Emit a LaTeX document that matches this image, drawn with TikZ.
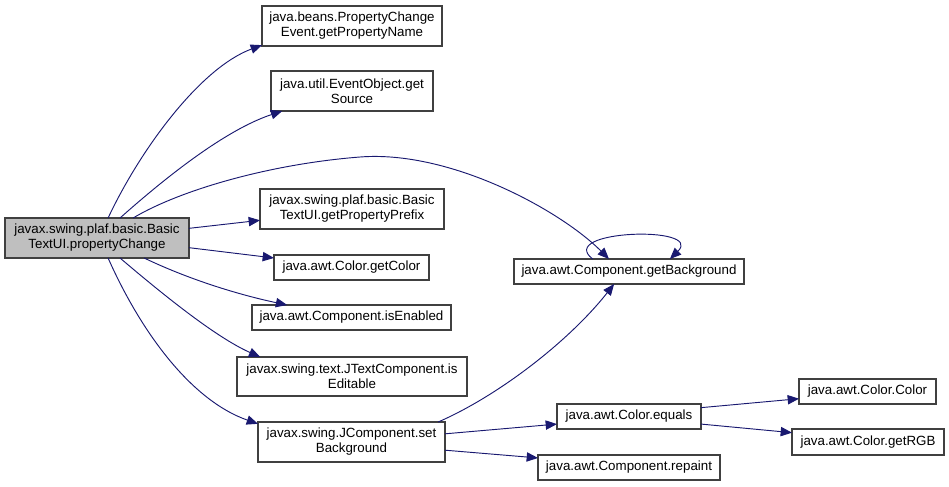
\documentclass[tikz,border=0pt]{standalone}
\usepackage{fontspec}
\setmainfont{Liberation Sans}
\usetikzlibrary{arrows.meta}
\definecolor{edgeblue}{HTML}{191970}
\definecolor{boxgray}{HTML}{404040}
\definecolor{rootfill}{HTML}{BFBFBF}

\begin{document}
\begin{tikzpicture}[
    x=0.75pt, y=-0.75pt,
    fn/.style={draw=boxgray, fill=white, line width=0.8pt, inner sep=0pt, outer sep=0pt,
               align=center, font=\fontsize{10}{11.25}\selectfont},
    call/.style={draw=edgeblue, line width=0.7pt,
                 -{Triangle[length=8.5pt, width=7pt]}},
]
    \useasboundingbox (0,0) rectangle (949,486);

    % caller
    \node[fn, fill=rootfill, minimum width=184*0.75pt, minimum height=40*0.75pt] (root) at (97,238)
        {javax.swing.plaf.basic.Basic\\TextUI.propertyChange};

    % callees
    \node[fn, minimum width=180*0.75pt, minimum height=40*0.75pt] (propname) at (352,26)
        {java.beans.PropertyChange\\Event.getPropertyName};
    \node[fn, minimum width=162*0.75pt, minimum height=40*0.75pt] (source) at (352,91)
        {java.util.EventObject.get\\Source};
    \node[fn, minimum width=184*0.75pt, minimum height=40*0.75pt] (prefix) at (352,209)
        {javax.swing.plaf.basic.Basic\\TextUI.getPropertyPrefix};
    \node[fn, minimum width=155*0.75pt, minimum height=25*0.75pt] (getcolor) at (351.5,267.5)
        {java.awt.Color.getColor};
    \node[fn, minimum width=199*0.75pt, minimum height=25*0.75pt] (enabled) at (351.5,317.5)
        {java.awt.Component.isEnabled};
    \node[fn, minimum width=230*0.75pt, minimum height=39*0.75pt] (editable) at (352,376.5)
        {javax.swing.text.JTextComponent.is\\Editable};
    \node[fn, minimum width=187*0.75pt, minimum height=40*0.75pt] (setbg) at (351.5,442)
        {javax.swing.JComponent.set\\Background};

    \node[fn, minimum width=230*0.75pt, minimum height=25*0.75pt] (getbg) at (629,271.5)
        {java.awt.Component.getBackground};
    \node[fn, minimum width=144*0.75pt, minimum height=25*0.75pt] (equals) at (629,416.5)
        {java.awt.Color.equals};
    \node[fn, minimum width=182*0.75pt, minimum height=25*0.75pt] (repaint) at (629,467.5)
        {java.awt.Component.repaint};
    \node[fn, minimum width=137*0.75pt, minimum height=25*0.75pt] (colorctor) at (867.5,391.5)
        {java.awt.Color.Color};
    \node[fn, minimum width=152*0.75pt, minimum height=26*0.75pt] (getrgb) at (868,442)
        {java.awt.Color.getRGB};

    % calls from the caller
    \draw[call] (root.61) .. controls (140,150) and (200,68) .. (propname.192);
    \draw[call] (root.41) .. controls (165,178) and (225,130) .. (source.196);
    \draw[call] (root.29) .. controls (180,190) and (270,164) .. (360,157)
        .. controls (450,150) and (560,210) .. (getbg.148);
    \draw[call] (root.6) -- (prefix.187);
    \draw[call] (root.-6) -- (getcolor.173);
    \draw[call] (root.-23) .. controls (190,280) and (240,295) .. (enabled.169);
    \draw[call] (root.-41) .. controls (160,292) and (215,337) .. (editable.168);
    \draw[call] (root.-61) .. controls (140,330) and (190,400) .. (setbg.169);

    % further calls
    \draw[call] (setbg.13) .. controls (500,395) and (570,340) .. (getbg.220);
    \draw[call] (setbg.5) -- (equals.186);
    \draw[call] (setbg.-5) -- (repaint.174);
    \draw[call] (equals.7) -- (colorctor.186);
    \draw[call] (equals.-6) -- (getrgb.173);
    \draw[call] (getbg.161) .. controls (555,230) and (705,225) .. (getbg.17);
\end{tikzpicture}
\end{document}
